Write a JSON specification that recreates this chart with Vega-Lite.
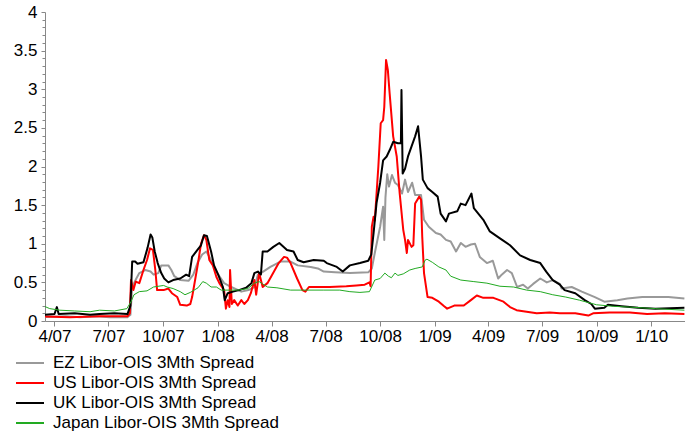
{
  "$schema": "https://vega.github.io/schema/vega-lite/v6.json",
  "width": 640,
  "height": 309,
  "autosize": "none",
  "padding": {"left": 45, "top": 12, "right": 0, "bottom": 114},
  "background": "white",
  "config": {
    "font": "Liberation Sans",
    "view": {"stroke": null}
  },
  "data": {"values": [
    {"s":"EZ","d":"2007-03-15","v":0.05},{"s":"EZ","d":"2007-04-20","v":0.06},{"s":"EZ","d":"2007-05-14","v":0.05},{"s":"EZ","d":"2007-06-10","v":0.06},{"s":"EZ","d":"2007-07-03","v":0.05},{"s":"EZ","d":"2007-08-02","v":0.05},{"s":"EZ","d":"2007-08-07","v":0.08},{"s":"EZ","d":"2007-08-10","v":0.44},{"s":"EZ","d":"2007-08-17","v":0.55},{"s":"EZ","d":"2007-08-22","v":0.62},{"s":"EZ","d":"2007-09-01","v":0.66},{"s":"EZ","d":"2007-09-10","v":0.64},{"s":"EZ","d":"2007-09-15","v":0.60},{"s":"EZ","d":"2007-09-23","v":0.62},{"s":"EZ","d":"2007-09-28","v":0.72},{"s":"EZ","d":"2007-10-10","v":0.72},{"s":"EZ","d":"2007-10-15","v":0.66},{"s":"EZ","d":"2007-10-20","v":0.58},{"s":"EZ","d":"2007-10-30","v":0.53},{"s":"EZ","d":"2007-11-13","v":0.52},{"s":"EZ","d":"2007-11-21","v":0.60},{"s":"EZ","d":"2007-11-28","v":0.75},{"s":"EZ","d":"2007-12-06","v":0.86},{"s":"EZ","d":"2007-12-13","v":0.90},{"s":"EZ","d":"2007-12-19","v":0.82},{"s":"EZ","d":"2007-12-26","v":0.70},{"s":"EZ","d":"2008-01-02","v":0.60},{"s":"EZ","d":"2008-01-12","v":0.49},{"s":"EZ","d":"2008-01-24","v":0.44},{"s":"EZ","d":"2008-02-10","v":0.38},{"s":"EZ","d":"2008-02-22","v":0.40},{"s":"EZ","d":"2008-03-03","v":0.44},{"s":"EZ","d":"2008-03-09","v":0.60},{"s":"EZ","d":"2008-03-14","v":0.62},{"s":"EZ","d":"2008-03-30","v":0.70},{"s":"EZ","d":"2008-04-16","v":0.77},{"s":"EZ","d":"2008-05-03","v":0.77},{"s":"EZ","d":"2008-05-15","v":0.72},{"s":"EZ","d":"2008-06-06","v":0.70},{"s":"EZ","d":"2008-06-18","v":0.68},{"s":"EZ","d":"2008-06-28","v":0.64},{"s":"EZ","d":"2008-07-17","v":0.63},{"s":"EZ","d":"2008-08-11","v":0.62},{"s":"EZ","d":"2008-09-11","v":0.63},{"s":"EZ","d":"2008-09-17","v":0.68},{"s":"EZ","d":"2008-09-22","v":0.88},{"s":"EZ","d":"2008-10-01","v":1.22},{"s":"EZ","d":"2008-10-06","v":1.48},{"s":"EZ","d":"2008-10-08","v":1.05},{"s":"EZ","d":"2008-10-10","v":1.60},{"s":"EZ","d":"2008-10-13","v":1.90},{"s":"EZ","d":"2008-10-16","v":1.74},{"s":"EZ","d":"2008-10-21","v":1.89},{"s":"EZ","d":"2008-10-26","v":1.79},{"s":"EZ","d":"2008-10-31","v":1.76},{"s":"EZ","d":"2008-11-07","v":1.65},{"s":"EZ","d":"2008-11-12","v":1.83},{"s":"EZ","d":"2008-11-17","v":1.67},{"s":"EZ","d":"2008-11-24","v":1.79},{"s":"EZ","d":"2008-11-29","v":1.63},{"s":"EZ","d":"2008-12-09","v":1.63},{"s":"EZ","d":"2008-12-14","v":1.31},{"s":"EZ","d":"2008-12-22","v":1.22},{"s":"EZ","d":"2009-01-03","v":1.14},{"s":"EZ","d":"2009-01-11","v":1.12},{"s":"EZ","d":"2009-01-20","v":1.05},{"s":"EZ","d":"2009-01-28","v":1.03},{"s":"EZ","d":"2009-02-06","v":0.90},{"s":"EZ","d":"2009-02-14","v":1.01},{"s":"EZ","d":"2009-02-22","v":0.96},{"s":"EZ","d":"2009-03-03","v":0.99},{"s":"EZ","d":"2009-03-10","v":1.00},{"s":"EZ","d":"2009-03-18","v":0.83},{"s":"EZ","d":"2009-03-30","v":0.75},{"s":"EZ","d":"2009-04-09","v":0.78},{"s":"EZ","d":"2009-04-18","v":0.55},{"s":"EZ","d":"2009-04-24","v":0.60},{"s":"EZ","d":"2009-05-03","v":0.66},{"s":"EZ","d":"2009-05-11","v":0.62},{"s":"EZ","d":"2009-05-20","v":0.44},{"s":"EZ","d":"2009-05-30","v":0.47},{"s":"EZ","d":"2009-06-07","v":0.42},{"s":"EZ","d":"2009-06-16","v":0.48},{"s":"EZ","d":"2009-06-28","v":0.55},{"s":"EZ","d":"2009-07-09","v":0.50},{"s":"EZ","d":"2009-07-19","v":0.53},{"s":"EZ","d":"2009-07-31","v":0.48},{"s":"EZ","d":"2009-08-03","v":0.42},{"s":"EZ","d":"2009-08-20","v":0.44},{"s":"EZ","d":"2009-09-06","v":0.38},{"s":"EZ","d":"2009-09-28","v":0.31},{"s":"EZ","d":"2009-10-14","v":0.25},{"s":"EZ","d":"2009-11-05","v":0.27},{"s":"EZ","d":"2009-11-22","v":0.29},{"s":"EZ","d":"2009-12-17","v":0.31},{"s":"EZ","d":"2010-01-08","v":0.31},{"s":"EZ","d":"2010-01-30","v":0.31},{"s":"EZ","d":"2010-02-26","v":0.29},

    {"s":"US","d":"2007-03-15","v":0.06},{"s":"US","d":"2007-04-27","v":0.05},{"s":"US","d":"2007-06-16","v":0.06},{"s":"US","d":"2007-08-02","v":0.06},{"s":"US","d":"2007-08-06","v":0.10},{"s":"US","d":"2007-08-08","v":0.53},{"s":"US","d":"2007-08-12","v":0.40},{"s":"US","d":"2007-08-16","v":0.51},{"s":"US","d":"2007-08-22","v":0.49},{"s":"US","d":"2007-08-29","v":0.66},{"s":"US","d":"2007-09-04","v":0.79},{"s":"US","d":"2007-09-09","v":0.94},{"s":"US","d":"2007-09-14","v":0.92},{"s":"US","d":"2007-09-18","v":0.66},{"s":"US","d":"2007-09-21","v":0.40},{"s":"US","d":"2007-10-02","v":0.40},{"s":"US","d":"2007-10-10","v":0.42},{"s":"US","d":"2007-10-16","v":0.36},{"s":"US","d":"2007-10-25","v":0.31},{"s":"US","d":"2007-10-30","v":0.21},{"s":"US","d":"2007-11-10","v":0.20},{"s":"US","d":"2007-11-16","v":0.22},{"s":"US","d":"2007-11-19","v":0.31},{"s":"US","d":"2007-11-22","v":0.44},{"s":"US","d":"2007-11-29","v":0.75},{"s":"US","d":"2007-12-04","v":1.00},{"s":"US","d":"2007-12-09","v":1.11},{"s":"US","d":"2007-12-13","v":1.05},{"s":"US","d":"2007-12-18","v":0.79},{"s":"US","d":"2007-12-24","v":0.72},{"s":"US","d":"2007-12-30","v":0.57},{"s":"US","d":"2008-01-04","v":0.49},{"s":"US","d":"2008-01-12","v":0.40},{"s":"US","d":"2008-01-15","v":0.16},{"s":"US","d":"2008-01-18","v":0.27},{"s":"US","d":"2008-01-21","v":0.18},{"s":"US","d":"2008-01-22","v":0.66},{"s":"US","d":"2008-01-25","v":0.22},{"s":"US","d":"2008-01-29","v":0.27},{"s":"US","d":"2008-02-04","v":0.20},{"s":"US","d":"2008-02-10","v":0.27},{"s":"US","d":"2008-02-15","v":0.22},{"s":"US","d":"2008-02-21","v":0.27},{"s":"US","d":"2008-02-26","v":0.36},{"s":"US","d":"2008-03-03","v":0.53},{"s":"US","d":"2008-03-06","v":0.34},{"s":"US","d":"2008-03-11","v":0.62},{"s":"US","d":"2008-03-17","v":0.44},{"s":"US","d":"2008-03-25","v":0.49},{"s":"US","d":"2008-04-02","v":0.60},{"s":"US","d":"2008-04-13","v":0.75},{"s":"US","d":"2008-04-22","v":0.83},{"s":"US","d":"2008-04-27","v":0.82},{"s":"US","d":"2008-05-03","v":0.75},{"s":"US","d":"2008-05-14","v":0.55},{"s":"US","d":"2008-05-23","v":0.40},{"s":"US","d":"2008-05-28","v":0.38},{"s":"US","d":"2008-06-03","v":0.44},{"s":"US","d":"2008-06-17","v":0.44},{"s":"US","d":"2008-07-08","v":0.44},{"s":"US","d":"2008-08-05","v":0.45},{"s":"US","d":"2008-08-22","v":0.46},{"s":"US","d":"2008-09-05","v":0.47},{"s":"US","d":"2008-09-13","v":0.50},{"s":"US","d":"2008-09-15","v":0.45},{"s":"US","d":"2008-09-17","v":1.22},{"s":"US","d":"2008-09-20","v":1.35},{"s":"US","d":"2008-09-22","v":1.30},{"s":"US","d":"2008-09-28","v":2.00},{"s":"US","d":"2008-10-02","v":2.56},{"s":"US","d":"2008-10-06","v":2.60},{"s":"US","d":"2008-10-08","v":2.77},{"s":"US","d":"2008-10-11","v":3.38},{"s":"US","d":"2008-10-14","v":3.25},{"s":"US","d":"2008-10-17","v":2.95},{"s":"US","d":"2008-10-23","v":2.39},{"s":"US","d":"2008-10-29","v":2.13},{"s":"US","d":"2008-11-03","v":1.65},{"s":"US","d":"2008-11-09","v":1.18},{"s":"US","d":"2008-11-12","v":1.05},{"s":"US","d":"2008-11-15","v":0.88},{"s":"US","d":"2008-11-17","v":1.05},{"s":"US","d":"2008-11-23","v":0.96},{"s":"US","d":"2008-11-26","v":0.98},{"s":"US","d":"2008-11-29","v":1.52},{"s":"US","d":"2008-12-06","v":1.61},{"s":"US","d":"2008-12-09","v":1.57},{"s":"US","d":"2008-12-11","v":1.09},{"s":"US","d":"2008-12-14","v":0.62},{"s":"US","d":"2008-12-20","v":0.31},{"s":"US","d":"2008-12-28","v":0.30},{"s":"US","d":"2009-01-08","v":0.25},{"s":"US","d":"2009-01-17","v":0.19},{"s":"US","d":"2009-01-22","v":0.16},{"s":"US","d":"2009-02-03","v":0.20},{"s":"US","d":"2009-02-19","v":0.20},{"s":"US","d":"2009-03-03","v":0.27},{"s":"US","d":"2009-03-13","v":0.33},{"s":"US","d":"2009-03-24","v":0.30},{"s":"US","d":"2009-04-10","v":0.30},{"s":"US","d":"2009-04-27","v":0.25},{"s":"US","d":"2009-05-08","v":0.18},{"s":"US","d":"2009-05-19","v":0.14},{"s":"US","d":"2009-06-05","v":0.12},{"s":"US","d":"2009-06-22","v":0.10},{"s":"US","d":"2009-07-14","v":0.11},{"s":"US","d":"2009-07-31","v":0.10},{"s":"US","d":"2009-08-26","v":0.10},{"s":"US","d":"2009-09-17","v":0.07},{"s":"US","d":"2009-09-25","v":0.10},{"s":"US","d":"2009-10-23","v":0.11},{"s":"US","d":"2009-11-26","v":0.11},{"s":"US","d":"2009-12-25","v":0.09},{"s":"US","d":"2010-01-24","v":0.10},{"s":"US","d":"2010-02-26","v":0.09},

    {"s":"UK","d":"2007-03-15","v":0.08},{"s":"UK","d":"2007-04-01","v":0.09},{"s":"UK","d":"2007-04-05","v":0.18},{"s":"UK","d":"2007-04-08","v":0.09},{"s":"UK","d":"2007-05-05","v":0.10},{"s":"UK","d":"2007-05-31","v":0.08},{"s":"UK","d":"2007-06-16","v":0.09},{"s":"UK","d":"2007-07-11","v":0.10},{"s":"UK","d":"2007-08-02","v":0.09},{"s":"UK","d":"2007-08-07","v":0.20},{"s":"UK","d":"2007-08-10","v":0.77},{"s":"UK","d":"2007-08-15","v":0.77},{"s":"UK","d":"2007-08-19","v":0.74},{"s":"UK","d":"2007-08-29","v":0.76},{"s":"UK","d":"2007-09-05","v":0.95},{"s":"UK","d":"2007-09-10","v":1.12},{"s":"UK","d":"2007-09-13","v":1.08},{"s":"UK","d":"2007-09-17","v":0.90},{"s":"UK","d":"2007-09-22","v":0.75},{"s":"UK","d":"2007-09-28","v":0.62},{"s":"UK","d":"2007-10-03","v":0.55},{"s":"UK","d":"2007-10-10","v":0.50},{"s":"UK","d":"2007-10-18","v":0.53},{"s":"UK","d":"2007-10-30","v":0.55},{"s":"UK","d":"2007-11-09","v":0.60},{"s":"UK","d":"2007-11-14","v":0.58},{"s":"UK","d":"2007-11-19","v":0.83},{"s":"UK","d":"2007-11-28","v":0.92},{"s":"UK","d":"2007-12-04","v":0.98},{"s":"UK","d":"2007-12-09","v":1.11},{"s":"UK","d":"2007-12-14","v":1.10},{"s":"UK","d":"2007-12-21","v":0.90},{"s":"UK","d":"2007-12-26","v":0.72},{"s":"UK","d":"2008-01-02","v":0.60},{"s":"UK","d":"2008-01-10","v":0.44},{"s":"UK","d":"2008-01-13","v":0.27},{"s":"UK","d":"2008-01-18","v":0.36},{"s":"UK","d":"2008-01-27","v":0.38},{"s":"UK","d":"2008-02-06","v":0.40},{"s":"UK","d":"2008-02-18","v":0.43},{"s":"UK","d":"2008-02-27","v":0.49},{"s":"UK","d":"2008-03-03","v":0.62},{"s":"UK","d":"2008-03-09","v":0.64},{"s":"UK","d":"2008-03-14","v":0.60},{"s":"UK","d":"2008-03-17","v":0.90},{"s":"UK","d":"2008-03-25","v":0.90},{"s":"UK","d":"2008-04-04","v":0.96},{"s":"UK","d":"2008-04-14","v":1.01},{"s":"UK","d":"2008-04-27","v":0.92},{"s":"UK","d":"2008-05-08","v":0.90},{"s":"UK","d":"2008-05-15","v":0.79},{"s":"UK","d":"2008-05-25","v":0.76},{"s":"UK","d":"2008-06-11","v":0.79},{"s":"UK","d":"2008-06-28","v":0.78},{"s":"UK","d":"2008-07-03","v":0.75},{"s":"UK","d":"2008-07-20","v":0.70},{"s":"UK","d":"2008-07-30","v":0.64},{"s":"UK","d":"2008-08-11","v":0.72},{"s":"UK","d":"2008-08-28","v":0.75},{"s":"UK","d":"2008-09-11","v":0.78},{"s":"UK","d":"2008-09-16","v":0.86},{"s":"UK","d":"2008-09-20","v":1.14},{"s":"UK","d":"2008-09-25","v":1.53},{"s":"UK","d":"2008-10-01","v":1.79},{"s":"UK","d":"2008-10-06","v":2.08},{"s":"UK","d":"2008-10-12","v":2.13},{"s":"UK","d":"2008-10-17","v":2.21},{"s":"UK","d":"2008-10-23","v":2.32},{"s":"UK","d":"2008-10-31","v":2.30},{"s":"UK","d":"2008-11-05","v":2.30},{"s":"UK","d":"2008-11-06","v":2.99},{"s":"UK","d":"2008-11-08","v":1.91},{"s":"UK","d":"2008-11-12","v":1.97},{"s":"UK","d":"2008-11-17","v":2.13},{"s":"UK","d":"2008-11-23","v":2.26},{"s":"UK","d":"2008-11-29","v":2.39},{"s":"UK","d":"2008-12-04","v":2.52},{"s":"UK","d":"2008-12-09","v":2.13},{"s":"UK","d":"2008-12-12","v":1.83},{"s":"UK","d":"2008-12-20","v":1.72},{"s":"UK","d":"2008-12-28","v":1.67},{"s":"UK","d":"2009-01-06","v":1.61},{"s":"UK","d":"2009-01-11","v":1.39},{"s":"UK","d":"2009-01-20","v":1.29},{"s":"UK","d":"2009-01-25","v":1.39},{"s":"UK","d":"2009-02-08","v":1.42},{"s":"UK","d":"2009-02-14","v":1.52},{"s":"UK","d":"2009-02-22","v":1.50},{"s":"UK","d":"2009-03-04","v":1.65},{"s":"UK","d":"2009-03-08","v":1.46},{"s":"UK","d":"2009-03-24","v":1.31},{"s":"UK","d":"2009-04-04","v":1.16},{"s":"UK","d":"2009-04-21","v":1.07},{"s":"UK","d":"2009-05-08","v":0.98},{"s":"UK","d":"2009-05-25","v":0.85},{"s":"UK","d":"2009-06-11","v":0.79},{"s":"UK","d":"2009-06-28","v":0.75},{"s":"UK","d":"2009-07-08","v":0.64},{"s":"UK","d":"2009-07-19","v":0.53},{"s":"UK","d":"2009-07-31","v":0.47},{"s":"UK","d":"2009-08-08","v":0.40},{"s":"UK","d":"2009-08-26","v":0.36},{"s":"UK","d":"2009-09-11","v":0.27},{"s":"UK","d":"2009-09-22","v":0.22},{"s":"UK","d":"2009-09-28","v":0.16},{"s":"UK","d":"2009-10-14","v":0.17},{"s":"UK","d":"2009-10-20","v":0.21},{"s":"UK","d":"2009-11-12","v":0.19},{"s":"UK","d":"2009-12-10","v":0.17},{"s":"UK","d":"2010-01-08","v":0.16},{"s":"UK","d":"2010-02-26","v":0.17},

    {"s":"Japan","d":"2007-03-15","v":0.19},{"s":"Japan","d":"2007-03-24","v":0.16},{"s":"Japan","d":"2007-04-10","v":0.14},{"s":"Japan","d":"2007-05-05","v":0.13},{"s":"Japan","d":"2007-05-31","v":0.12},{"s":"Japan","d":"2007-06-16","v":0.14},{"s":"Japan","d":"2007-07-11","v":0.13},{"s":"Japan","d":"2007-08-01","v":0.16},{"s":"Japan","d":"2007-08-08","v":0.25},{"s":"Japan","d":"2007-08-13","v":0.34},{"s":"Japan","d":"2007-08-22","v":0.38},{"s":"Japan","d":"2007-09-04","v":0.39},{"s":"Japan","d":"2007-09-15","v":0.44},{"s":"Japan","d":"2007-10-02","v":0.46},{"s":"Japan","d":"2007-10-08","v":0.44},{"s":"Japan","d":"2007-10-18","v":0.42},{"s":"Japan","d":"2007-10-30","v":0.38},{"s":"Japan","d":"2007-11-07","v":0.34},{"s":"Japan","d":"2007-11-16","v":0.37},{"s":"Japan","d":"2007-11-29","v":0.43},{"s":"Japan","d":"2007-12-07","v":0.51},{"s":"Japan","d":"2007-12-13","v":0.49},{"s":"Japan","d":"2007-12-21","v":0.44},{"s":"Japan","d":"2007-12-30","v":0.44},{"s":"Japan","d":"2008-01-07","v":0.40},{"s":"Japan","d":"2008-02-04","v":0.40},{"s":"Japan","d":"2008-02-21","v":0.42},{"s":"Japan","d":"2008-03-03","v":0.49},{"s":"Japan","d":"2008-03-11","v":0.51},{"s":"Japan","d":"2008-03-17","v":0.48},{"s":"Japan","d":"2008-03-25","v":0.44},{"s":"Japan","d":"2008-04-10","v":0.43},{"s":"Japan","d":"2008-05-03","v":0.40},{"s":"Japan","d":"2008-05-31","v":0.40},{"s":"Japan","d":"2008-06-27","v":0.40},{"s":"Japan","d":"2008-07-25","v":0.40},{"s":"Japan","d":"2008-08-11","v":0.38},{"s":"Japan","d":"2008-08-28","v":0.37},{"s":"Japan","d":"2008-09-13","v":0.38},{"s":"Japan","d":"2008-09-22","v":0.53},{"s":"Japan","d":"2008-10-01","v":0.55},{"s":"Japan","d":"2008-10-09","v":0.62},{"s":"Japan","d":"2008-10-15","v":0.58},{"s":"Japan","d":"2008-10-20","v":0.56},{"s":"Japan","d":"2008-10-26","v":0.62},{"s":"Japan","d":"2008-10-31","v":0.59},{"s":"Japan","d":"2008-11-09","v":0.61},{"s":"Japan","d":"2008-11-20","v":0.66},{"s":"Japan","d":"2008-11-29","v":0.68},{"s":"Japan","d":"2008-12-11","v":0.70},{"s":"Japan","d":"2008-12-16","v":0.79},{"s":"Japan","d":"2008-12-19","v":0.80},{"s":"Japan","d":"2008-12-28","v":0.76},{"s":"Japan","d":"2009-01-08","v":0.70},{"s":"Japan","d":"2009-01-20","v":0.66},{"s":"Japan","d":"2009-01-28","v":0.58},{"s":"Japan","d":"2009-02-14","v":0.53},{"s":"Japan","d":"2009-03-08","v":0.51},{"s":"Japan","d":"2009-03-30","v":0.49},{"s":"Japan","d":"2009-04-21","v":0.45},{"s":"Japan","d":"2009-05-14","v":0.44},{"s":"Japan","d":"2009-06-05","v":0.40},{"s":"Japan","d":"2009-06-28","v":0.38},{"s":"Japan","d":"2009-07-19","v":0.34},{"s":"Japan","d":"2009-08-10","v":0.31},{"s":"Japan","d":"2009-09-02","v":0.27},{"s":"Japan","d":"2009-10-01","v":0.21},{"s":"Japan","d":"2009-10-29","v":0.19},{"s":"Japan","d":"2009-11-26","v":0.18},{"s":"Japan","d":"2010-01-08","v":0.16},{"s":"Japan","d":"2010-02-26","v":0.14}
  ]},
  "mark": {"type": "line", "clip": true, "strokeJoin": "round"},
  "encoding": {
    "x": {
      "field": "d", "type": "temporal",
      "scale": {"type": "utc", "domain": [{"year": 2007, "month": 3, "date": 16, "utc": true}, {"year": 2010, "month": 2, "date": 27, "utc": true}]},
      "axis": {
        "title": null, "grid": false, "format": "%-m/%y",
        "values": [
          {"year": 2007, "month": 4, "date": 1, "utc": true},
          {"year": 2007, "month": 7, "date": 1, "utc": true},
          {"year": 2007, "month": 10, "date": 1, "utc": true},
          {"year": 2008, "month": 1, "date": 1, "utc": true},
          {"year": 2008, "month": 4, "date": 1, "utc": true},
          {"year": 2008, "month": 7, "date": 1, "utc": true},
          {"year": 2008, "month": 10, "date": 1, "utc": true},
          {"year": 2009, "month": 1, "date": 1, "utc": true},
          {"year": 2009, "month": 4, "date": 1, "utc": true},
          {"year": 2009, "month": 7, "date": 1, "utc": true},
          {"year": 2009, "month": 10, "date": 1, "utc": true},
          {"year": 2010, "month": 1, "date": 1, "utc": true}
        ],
        "domainColor": "#888888", "tickColor": "#888888", "tickSize": 5,
        "labelFontSize": 17, "labelColor": "#000000", "labelPadding": 2,
        "labelOverlap": false, "labelFont": "Liberation Sans"
      }
    },
    "y": {
      "field": "v", "type": "quantitative",
      "scale": {"domain": [0, 4], "nice": false, "zero": true},
      "axis": {
        "title": null, "grid": false,
        "values": [0,0.1,0.2,0.3,0.4,0.5,0.6,0.7,0.8,0.9,1,1.1,1.2,1.3,1.4,1.5,1.6,1.7,1.8,1.9,2,2.1,2.2,2.3,2.4,2.5,2.6,2.7,2.8,2.9,3,3.1,3.2,3.3,3.4,3.5,3.6,3.7,3.8,3.9,4],
        "labelExpr": "abs(datum.value*2 - round(datum.value*2)) < 0.001 ? format(datum.value, '~g') : ''",
        "labelOverlap": false,
        "domainColor": "#888888", "tickColor": "#888888",
        "tickSize": {"condition": {"test": "abs(datum.value*2 - round(datum.value*2)) < 0.001", "value": 4}, "value": 3},
        "labelFontSize": 17, "labelColor": "#000000", "labelPadding": 4, "labelFont": "Liberation Sans"
      }
    },
    "color": {
      "field": "s", "type": "nominal",
      "scale": {"domain": ["EZ", "US", "UK", "Japan"], "range": ["#999999", "#ff0000", "#000000", "#22aa22"]},
      "legend": {
        "title": null, "orient": "none", "legendX": -30, "legendY": 341,
        "direction": "vertical",
        "symbolType": "stroke", "symbolSize": 784, "symbolStrokeWidth": 2,
        "labelFontSize": 17, "labelColor": "#000000", "labelFont": "Liberation Sans",
        "labelOffset": 8, "rowPadding": 0, "clipHeight": 20, "padding": 0,
        "labelExpr": "datum.label + ' Libor-OIS 3Mth Spread'",
        "labelLimit": 400
      }
    },
    "strokeWidth": {
      "condition": {"test": "datum.s === 'Japan'", "value": 1},
      "value": 2
    }
  }
}
